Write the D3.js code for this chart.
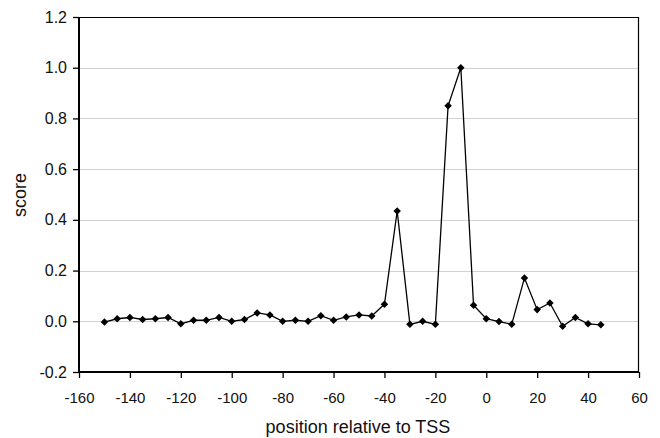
<!DOCTYPE html>
<html>
<head>
<meta charset="utf-8">
<script src="https://cdn.jsdelivr.net/npm/d3@7"></script>
<style>
  body { margin: 0; background: #fff; }
  svg { font-family: "Liberation Sans", Arial, sans-serif; }
</style>
</head>
<body>
<div id="plot"></div>
<script>
// positions relative to TSS and their scores
var positions = [-150, -145, -140, -135, -130, -125, -120, -115, -110, -105,
  -100, -95, -90, -85, -80, -75, -70, -65, -60, -55,
  -50, -45, -40, -35, -30, -25, -20, -15, -10, -5,
  0, 5, 10, 15, 20, 25, 30, 35, 40, 45];
var scores = [-0.003, 0.010, 0.015, 0.007, 0.010, 0.015, -0.010, 0.004, 0.004, 0.015,
  0.000, 0.007, 0.033, 0.025, 0.000, 0.004, 0.000, 0.022, 0.004, 0.017,
  0.025, 0.021, 0.067, 0.435, -0.012, 0.000, -0.012, 0.850, 1.000, 0.063,
  0.010, -0.001, -0.012, 0.171, 0.046, 0.072, -0.020, 0.015, -0.010, -0.014];
var xTicks = [-160, -140, -120, -100, -80, -60, -40, -20, 0, 20, 40, 60];
var yTicks = [-0.2, 0.0, 0.2, 0.4, 0.6, 0.8, 1.0, 1.2];

var data = positions.map(function(p, i) {
  return { x: p, y: scores[i] };
});

var margin = { top: 17, right: 21, bottom: 66, left: 79 };
var width = 660 - margin.left - margin.right,
  height = 438 - margin.top - margin.bottom;

var svg = d3.select("#plot").append("svg")
  .attr("width", 660)
  .attr("height", 438);

var g = svg.append("g")
  .attr("transform", "translate(" + margin.left + "," + margin.top + ")");

var xScale = d3.scaleLinear().domain([-160, 60]).range([0, width]);
var yScale = d3.scaleLinear().domain([-0.2, 1.2]).range([height, 0]);

// gridlines
g.append("g")
  .selectAll("line")
  .data(yTicks.filter(function(t) { return t > -0.2 && t < 1.2; }))
  .enter().append("line")
  .attr("x1", 0)
  .attr("x2", width)
  .attr("y1", function(d) { return Math.round(yScale(d)) + 0.5; })
  .attr("y2", function(d) { return Math.round(yScale(d)) + 0.5; })
  .attr("stroke", "#d2d2d2")
  .attr("stroke-width", 1.2);

// frame top and right
g.append("line")
  .attr("x1", 0).attr("x2", width)
  .attr("y1", 0.5).attr("y2", 0.5)
  .attr("stroke", "#000").attr("stroke-width", 1.2);
g.append("line")
  .attr("x1", width - 0.5).attr("x2", width - 0.5)
  .attr("y1", 0).attr("y2", height)
  .attr("stroke", "#000").attr("stroke-width", 1.2);

// plain hyphen for negatives, like the original
var fmtX = function(d) { return d3.format("d")(d).replace("\u2212", "-"); };
var fmtY = function(d) { return d3.format(".1f")(d).replace("\u2212", "-"); };

var xAxis = d3.axisBottom(xScale)
  .tickValues(xTicks)
  .tickSize(6)
  .tickPadding(14)
  .tickFormat(fmtX);

var yAxis = d3.axisLeft(yScale)
  .tickValues(yTicks)
  .tickSize(6)
  .tickPadding(6)
  .tickFormat(fmtY);

var gx = g.append("g")
  .attr("class", "x axis")
  .attr("transform", "translate(0," + height + ")")
  .call(xAxis);

var gy = g.append("g")
  .attr("class", "y axis")
  .call(yAxis);

[gx, gy].forEach(function(a) {
  a.select(".domain").attr("stroke", "#000").attr("stroke-width", 2);
  a.selectAll(".tick line").attr("stroke", "#000").attr("stroke-width", 1.3);
  a.selectAll(".tick text").attr("fill", "#111");
});
gx.selectAll(".tick text").style("font-size", "15px");
gy.selectAll(".tick text").style("font-size", "16px");
gx.select(".domain").attr("d", "M0,0H" + width);
gy.select(".domain").attr("d", "M0," + height + "V0");

var plotLine = d3.line()
  .x(function(d) { return xScale(d.x); })
  .y(function(d) { return yScale(d.y); });

g.append("path")
  .datum(data)
  .attr("d", plotLine)
  .attr("fill", "none")
  .attr("stroke", "#000")
  .attr("stroke-width", 1.3);

var diamond = d3.symbol().type(d3.symbolDiamond2).size(36);

g.append("g")
  .selectAll("path")
  .data(data)
  .enter().append("path")
  .attr("d", diamond)
  .attr("transform", function(d) {
    return "translate(" + xScale(d.x) + "," + yScale(d.y) + ")";
  })
  .attr("fill", "#000");

// axis titles
svg.append("text")
  .attr("x", 358)
  .attr("y", 433)
  .attr("text-anchor", "middle")
  .attr("fill", "#111")
  .style("font-size", "18px")
  .text("position relative to TSS");

svg.append("text")
  .attr("transform", "translate(26,195) rotate(-90)")
  .attr("text-anchor", "middle")
  .attr("fill", "#111")
  .style("font-size", "18px")
  .text("score");
</script>
</body>
</html>
